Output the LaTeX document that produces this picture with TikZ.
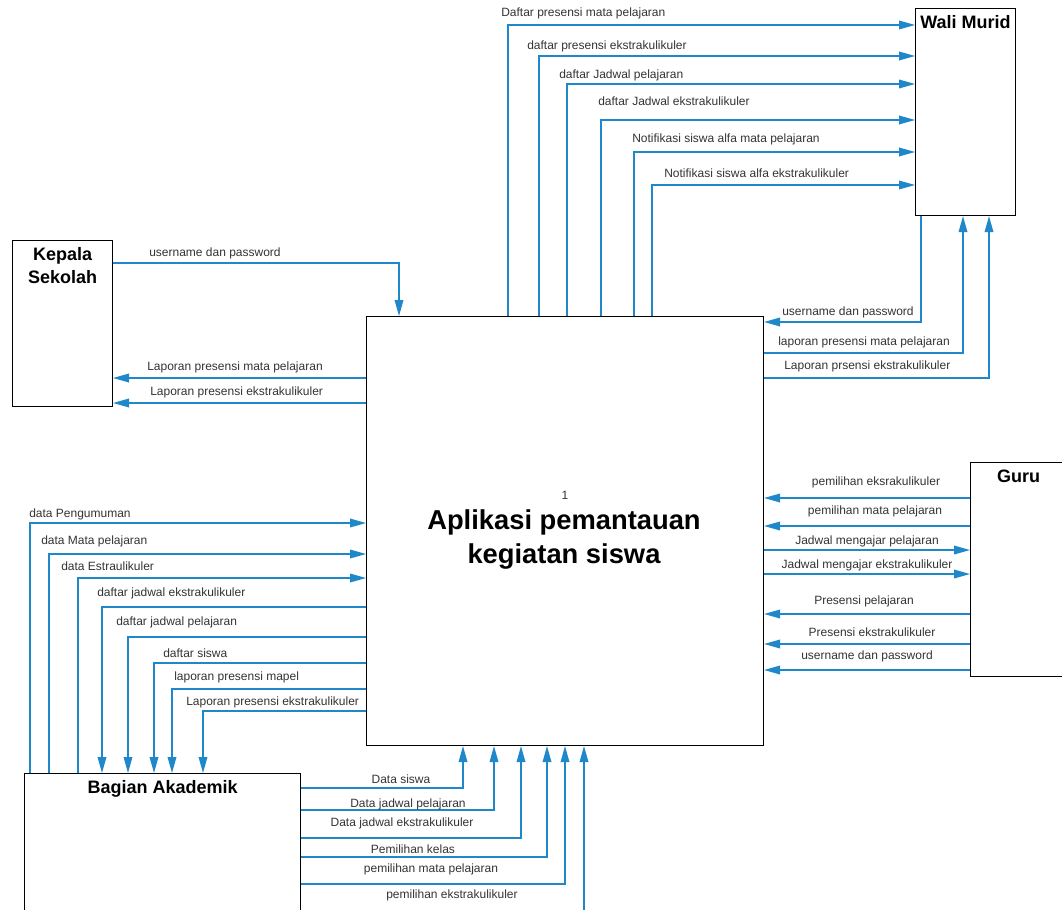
\documentclass[tikz,border=0pt]{standalone}
\usepackage{fontspec}
\setmainfont{Liberation Sans}
\usetikzlibrary{arrows.meta}
\definecolor{flowblue}{RGB}{30,136,202}
\tikzset{
  entity/.style={draw=black, line width=0.8pt, fill=white, anchor=north west, inner sep=0pt},
  entitytitle/.style={font=\bfseries\fontsize{13.5}{17}\selectfont, align=center, anchor=north, inner sep=0pt},
  flow/.style={flowblue, line width=1pt, -{Triangle[length=12pt,width=6.5pt]}},
  flowlabel/.style={font=\fontsize{9}{10}\selectfont, text=black!80, inner sep=0pt},
}
\begin{document}
\begin{tikzpicture}[x=0.75pt, y=-0.75pt]
    \useasboundingbox (0,0) rectangle (1062,909);

    % Entities and process
    \node[entity, minimum width=75pt, minimum height=124.5pt] (kepala) at (12,240) {};
    \node[entity, minimum width=75pt, minimum height=155.25pt] (wali) at (915,8) {};
    \node[entity, minimum width=297.75pt, minimum height=321.75pt] (main) at (366,316) {};
    \node[entity, minimum width=72pt, minimum height=160.5pt] (guru) at (970,462) {};
    \node[entity, minimum width=207pt, minimum height=112.5pt] (akademik) at (24,773) {};

    \node[entitytitle] (kepalatitle) at ([yshift=-5.5pt]kepala.north) {Kepala\\Sekolah};
    \node[entitytitle] (walititle) at ([yshift=-5.5pt]wali.north) {Wali Murid};
    \node[entitytitle] (gurutitle) at ([yshift=-5.5pt]guru.north) {Guru};
    \node[entitytitle] (akademiktitle) at ([yshift=-5.5pt]akademik.north) {Bagian Akademik};

    \node[flowlabel] (procnum) at (565,495) {1};
    \node[font=\bfseries\fontsize{20.5}{25.5}\selectfont, align=center, inner sep=0pt] (procname) at (564,539) {Aplikasi pemantauan\\kegiatan siswa};

    % Kepala Sekolah
    \draw[flow] (kepala.east |- 0,263) -| (main.north -| 399,0);
    \node[flowlabel, anchor=west] (k1) at (149,253) {username dan password};
    \draw[flow] (main.west |- 0,378) -- (kepala.east |- 0,378);
    \node[flowlabel, anchor=west] (k2) at (147,367) {Laporan presensi mata pelajaran};
    \draw[flow] (main.west |- 0,403) -- (kepala.east |- 0,403);
    \node[flowlabel, anchor=west] (k3) at (150,392) {Laporan presensi ekstrakulikuler};

    % Wali Murid
    \foreach \x/\y/\lx/\ly/\txt in {
        508/25/501/13/Daftar presensi mata pelajaran,
        539/56/527/46/daftar presensi ekstrakulikuler,
        567/84/559/75/daftar Jadwal pelajaran,
        601/120/598/101/daftar Jadwal ekstrakulikuler,
        634/152/632/139/Notifikasi siswa alfa mata pelajaran,
        652/185/664/173/Notifikasi siswa alfa ekstrakulikuler}
    {
        \draw[flow] (main.north -| \x,0) |- (wali.west |- 0,\y);
        \node[flowlabel, anchor=west] (w\y) at (\lx,\ly) {\txt};
    }
    \draw[flow] (wali.south -| 921,0) |- (main.east |- 0,322);
    \node[flowlabel, anchor=west] (w322) at (782,312) {username dan password};
    \draw[flow] (main.east |- 0,353) -| (wali.south -| 963,0);
    \node[flowlabel, anchor=west] (w353) at (778,342) {laporan presensi mata pelajaran};
    \draw[flow] (main.east |- 0,378) -| (wali.south -| 989,0);
    \node[flowlabel, anchor=west] (w378) at (784,366) {Laporan prsensi ekstrakulikuler};

    % Guru
    \foreach \y/\lx/\ly/\txt in {
        498/876/482/pemilihan eksrakulikuler,
        526/875/511/pemilihan mata pelajaran,
        614/864/601/Presensi pelajaran,
        644/872/632/Presensi ekstrakulikuler,
        670/867/656/username dan password}
    {
        \draw[flow] (guru.west |- 0,\y) -- (main.east |- 0,\y);
        \node[flowlabel] (g\y) at (\lx,\ly) {\txt};
    }
    \foreach \y/\lx/\ly/\txt in {
        550/867/541/Jadwal mengajar pelajaran,
        574/867/565/Jadwal mengajar ekstrakulikuler}
    {
        \draw[flow] (main.east |- 0,\y) -- (guru.west |- 0,\y);
        \node[flowlabel] (g\y) at (\lx,\ly) {\txt};
    }

    % Bagian Akademik
    \foreach \x/\y/\lx/\ly/\txt in {
        30/523/29/514/data Pengumuman,
        49/554/41/541/data Mata pelajaran,
        78/578/61/566/data Estraulikuler}
    {
        \draw[flow] (akademik.north -| \x,0) |- (main.west |- 0,\y);
        \node[flowlabel, anchor=west] (a\y) at (\lx,\ly) {\txt};
    }
    \foreach \x/\y/\lx/\ly/\txt in {
        102/607/97/593/daftar jadwal ekstrakulikuler,
        128/637/116/622/daftar jadwal pelajaran,
        154/663/163/653/daftar siswa,
        172/689/174/677/laporan presensi mapel,
        203/711/186/702/Laporan presensi ekstrakulikuler}
    {
        \draw[flow] (main.west |- 0,\y) -| (akademik.north -| \x,0);
        \node[flowlabel, anchor=west] (a\y) at (\lx,\ly) {\txt};
    }
    \foreach \x/\y/\lx/\ly/\txt in {
        463/788/401/779/Data siswa,
        494/810/408/804/Data jadwal pelajaran,
        521/838/402/823/Data jadwal ekstrakulikuler,
        547/857/413/849/Pemilihan kelas,
        565/884/431/869/pemilihan mata pelajaran,
        584/925/452/895/pemilihan ekstrakulikuler}
    {
        \draw[flow] (akademik.east |- 0,\y) -| (main.south -| \x,0);
        \node[flowlabel] (b\y) at (\lx,\ly) {\txt};
    }
\end{tikzpicture}
\end{document}
